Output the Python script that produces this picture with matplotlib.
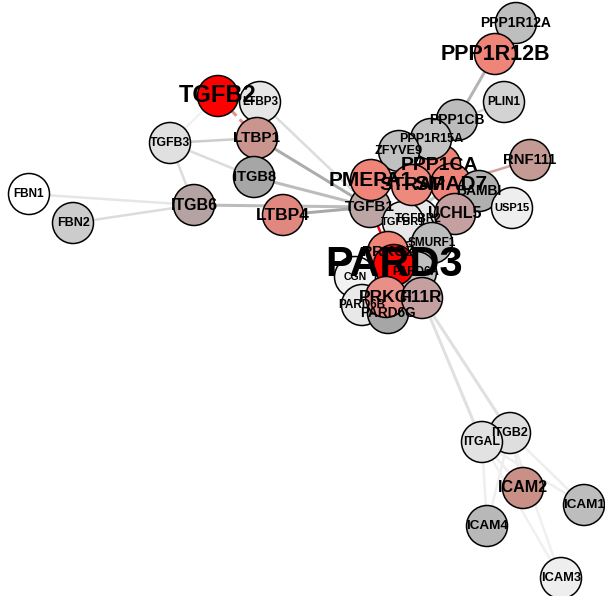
import matplotlib
matplotlib.use("Agg")
import matplotlib.pyplot as plt
from matplotlib.patches import Circle

# nodes: name, x, y (pixel layout), fill, label size
names = ["PPP1R12A", "PPP1R12B", "PLIN1", "PPP1CB", "PPP1CA", "PPP1R15A", "ZFYVE9",
         "RNF111", "TGFB2", "LTBP3", "LTBP1", "TGFB3", "ITGB8", "ITGB6", "LTBP4",
         "FBN1", "FBN2", "TGFB1", "TGFBR2", "TGFBR1", "PMEPA1", "SMAD7", "STRAP",
         "BAMBI", "USP15", "UCHL5", "SMURF1", "PRKCZ", "PARD6A", "PARD3", "CGN",
         "PARD6B", "PARD6G", "PRKCI", "F11R", "ITGB2", "ITGAL", "ICAM2", "ICAM1",
         "ICAM4", "ICAM3"]
xs = [516, 495, 504, 457, 440, 431, 399,
      530, 218, 260, 257, 170, 254, 194, 283,
      29, 73, 370, 418, 403, 371, 451, 412,
      479, 512, 455, 432, 388, 416, 394, 355,
      362, 388, 386, 422, 510, 482, 523, 584,
      487, 561]
ys = [23, 54, 102, 120, 165, 139, 151,
      160, 96, 102, 138, 143, 177, 205, 215,
      194, 223, 207, 219, 222, 180, 184, 185,
      191, 208, 214, 243, 252, 272, 265, 277,
      305, 313, 297, 298, 433, 442, 488, 505,
      526, 578]
fills = ["#bebebe", "#ef8578", "#d3d3d3", "#bcbcbc", "#ef8578", "#c4c4c4", "#c0c0c0",
         "#c49a94", "#ff0000", "#e6e6e6", "#c9958e", "#e0e0e0", "#a6a6a6", "#b5a3a3", "#e08880",
         "#ffffff", "#cccccc", "#bba5a5", "#e8e8e8", "#e8e8e8", "#ef8578", "#ef8578", "#ec8a7e",
         "#b0b0b0", "#eeeeee", "#c4a0a0", "#bdbdbd", "#ef8578", "#c0c0c0", "#ff0000", "#f2f2f2",
         "#e8e8e8", "#a6a6a6", "#e89088", "#c4a0a0", "#dedede", "#e2e2e2", "#c99088", "#bdbdbd",
         "#b8b8b8", "#eeeeee"]
sizes = [10, 15.5, 8.5, 10, 14, 9, 9.2,
         10.7, 17, 8.4, 11, 8.8, 10.5, 11.5, 12.5,
         8.5, 9, 11, 8.5, 8, 15, 15, 14,
         10, 8, 11.5, 8.5, 11, 8.4, 30, 7.6,
         8.5, 9.8, 12.5, 12.5, 9, 8.8, 11.6, 9.7,
         9.7, 9.3]

# edges: (a, b, colour, width, style)
edges = [
    ("PPP1R12A", "PPP1R12B", "#b0b0b0", 3, "-"),
    ("PPP1R12B", "PPP1CB", "#b4b4b4", 3, "-"),
    ("PLIN1", "PPP1CB", "#d4d4d4", 2.5, "-"),
    ("PPP1CB", "PPP1CA", "#b4b4b4", 3, "-"),
    ("PPP1R15A", "PPP1CA", "#c0c0c0", 2.5, "-"),
    ("TGFB2", "LTBP1", "#df9488", 3, "--"),
    ("TGFB2", "TGFB3", "#f0f0f0", 2, "-"),
    ("LTBP3", "TGFB1", "#dcdcdc", 2.5, "-"),
    ("LTBP1", "TGFB3", "#cccccc", 2.5, "-"),
    ("LTBP1", "TGFB1", "#acacac", 3, "-"),
    ("TGFB3", "ITGB8", "#dcdcdc", 2.5, "-"),
    ("TGFB3", "ITGB6", "#dcdcdc", 2.5, "-"),
    ("ITGB8", "TGFB1", "#bcbcbc", 3, "-"),
    ("ITGB6", "TGFB1", "#bcbcbc", 3, "-"),
    ("LTBP4", "TGFB1", "#a8a8a8", 3, "-"),
    ("FBN1", "ITGB6", "#e6e6e6", 2.5, "-"),
    ("FBN2", "ITGB6", "#dcdcdc", 2.5, "-"),
    ("RNF111", "SMAD7", "#cfa39b", 2.5, "-"),
    ("TGFB1", "PARD3", "#ff0000", 2.5, "-"),
    ("TGFB1", "TGFBR1", "#c8c8c8", 3, "-"),
    ("TGFB1", "TGFBR2", "#c8c8c8", 3, "-"),
    ("SMAD7", "TGFBR1", "#c8c8c8", 3, "-"),
    ("SMAD7", "SMURF1", "#c8c8c8", 3, "-"),
    ("SMAD7", "BAMBI", "#c8c8c8", 3, "-"),
    ("SMAD7", "UCHL5", "#c8c8c8", 3, "-"),
    ("SMAD7", "USP15", "#d8d8d8", 2.5, "-"),
    ("PARD3", "PARD6B", "#ff0000", 2.5, "--"),
    ("PARD3", "PRKCI", "#ff0000", 2.5, "-"),
    ("F11R", "ITGAL", "#e0e0e0", 3, "-"),
    ("F11R", "ITGB2", "#e0e0e0", 3, "-"),
    ("ITGB2", "ICAM1", "#eeeeee", 2.5, "-"),
    ("ITGB2", "ICAM2", "#eeeeee", 2.5, "-"),
    ("ITGB2", "ICAM3", "#f0f0f0", 2.5, "-"),
    ("ITGB2", "ICAM4", "#eeeeee", 2.5, "-"),
    ("ITGAL", "ICAM1", "#eeeeee", 2.5, "-"),
    ("ITGAL", "ICAM2", "#eeeeee", 2.5, "-"),
    ("ITGAL", "ICAM3", "#f0f0f0", 2.5, "-"),
    ("ITGAL", "ICAM4", "#eeeeee", 2.5, "-"),
]

pos = {n: (x, y) for n, x, y in zip(names, xs, ys)}

fig = plt.figure(figsize=(6.05, 5.96), dpi=100)
ax = fig.add_axes([0, 0, 1, 1])
ax.set_xlim(0, 605)
ax.set_ylim(596, 0)
ax.set_aspect("equal")
ax.axis("off")

# widths above are in pixels
for a, b, c, w, ls in edges:
    ax.plot([pos[a][0], pos[b][0]], [pos[a][1], pos[b][1]], color=c, lw=w * 0.72,
            ls=ls, solid_capstyle="butt", zorder=1)

for n, x, y, f in zip(names, xs, ys, fills):
    ax.add_patch(Circle((x, y), 20.5, facecolor=f, edgecolor="black", lw=1.1, zorder=2))

for n, x, y, s in zip(names, xs, ys, sizes):
    ax.text(x, y, n, ha="center", va="center", fontsize=s, fontweight="bold",
            family=["Liberation Sans", "DejaVu Sans"], color="black", zorder=3)

fig.savefig("out.png", dpi=100, facecolor="white")
